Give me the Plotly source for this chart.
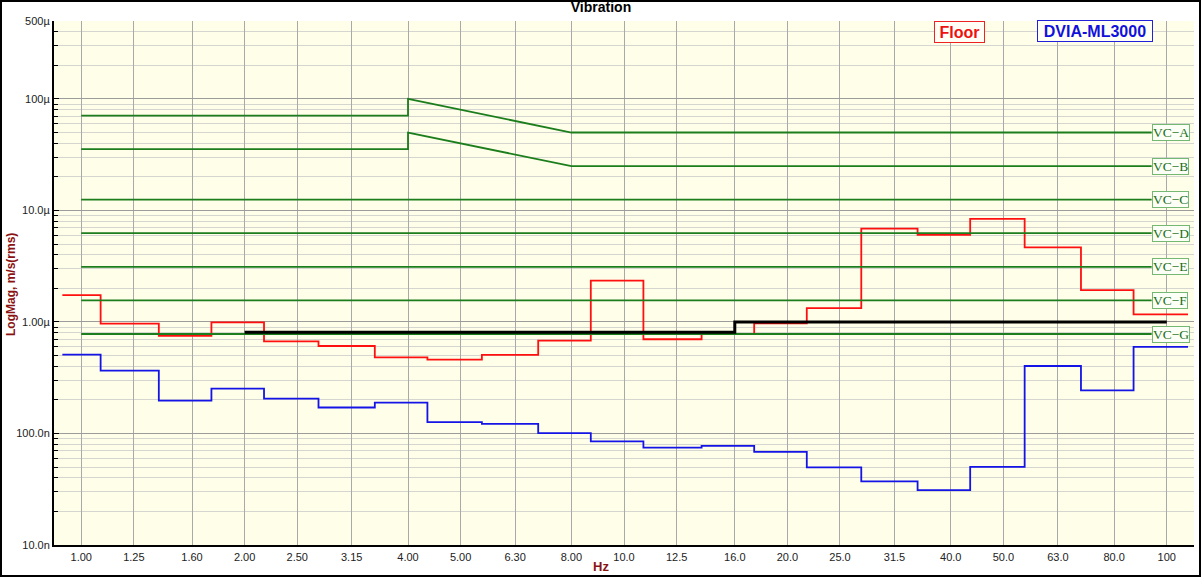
import math
import plotly.graph_objects as go

# ---------------- data ----------------
freqs = [1.00, 1.25, 1.60, 2.00, 2.50, 3.15, 4.00, 5.00, 6.30, 8.00, 10.0,
         12.5, 16.0, 20.0, 25.0, 31.5, 40.0, 50.0, 63.0, 80.0, 100.0]
freq_labels = ["1.00", "1.25", "1.60", "2.00", "2.50", "3.15", "4.00", "5.00",
               "6.30", "8.00", "10.0", "12.5", "16.0", "20.0", "25.0", "31.5",
               "40.0", "50.0", "63.0", "80.0", "100"]

# third-octave band levels, µm/s rms
floor_um = [1.74, 0.966, 0.75, 0.99, 0.671, 0.609, 0.482, 0.459, 0.506, 0.68,
            2.35, 0.70, 0.78, 0.97, 1.33, 6.86, 6.04, 8.4, 4.67, 1.93, 1.17]
dvia_um = [0.509, 0.366, 0.197, 0.252, 0.205, 0.171, 0.189, 0.1265, 0.122,
           0.1007, 0.085, 0.0746, 0.0774, 0.0683, 0.0496, 0.0372, 0.0311,
           0.0502, 0.403, 0.244, 0.597]

# black reference line
ref_hz = [2.0, 16.0, 100.0]
ref_um = [0.81, 1.0, 1.0]

# VC criterion curves
vc_names = ["VC\u2212A", "VC\u2212B", "VC\u2212C", "VC\u2212D", "VC\u2212E", "VC\u2212F", "VC\u2212G"]
vc_hz = [
    [1.0, 4.0, 4.0, 8.0, 93.8],
    [1.0, 4.0, 4.0, 8.0, 93.8],
    [1.0, 93.8],
    [1.0, 93.8],
    [1.0, 93.8],
    [1.0, 93.8],
    [1.0, 93.8],
]
vc_um = [
    [71.0, 71.0, 100.0, 50.0, 50.0],
    [35.5, 35.5, 50.0, 25.0, 25.0],
    [12.5, 12.5],
    [6.25, 6.25],
    [3.12, 3.12],
    [1.56, 1.56],
    [0.78, 0.78],
]

y_tickvals = [1e-8, 1e-7, 1e-6, 1e-5, 1e-4, 5e-4]
y_ticktext = ["10.0n", "100.0n", "1.00\u00b5", "10.0\u00b5", "100\u00b5", "500\u00b5"]

# ---------------- layout constants ----------------
W, H = 1202, 578
ML, MR, MT, MB = 54, 8, 21, 33
PW, PH = W - ML - MR, H - MT - MB
HALF = 2 ** (1 / 6)
SHIFT = 0.975          # drawn band edges sit slightly below nominal
START_HZ = 0.923

def px2paper_x(px):
    return (px - ML) / PW

def px2paper_y(py):
    return (H - MB - py) / PH

# band step outlines
band_x = [START_HZ] + [f / HALF * SHIFT for f in freqs[1:]] + [freqs[-1] * HALF * SHIFT]

def steps(vals):
    return [v * 1e-6 for v in vals] + [vals[-1] * 1e-6]

fig = go.Figure()

fig.add_trace(go.Scatter(x=band_x, y=steps(floor_um), mode="lines", line_shape="hv",
                         line=dict(color="#ff1010", width=1.8), name="Floor"))

green = "#1b7d1b"
for name, xs, ys in zip(vc_names, vc_hz, vc_um):
    fig.add_trace(go.Scatter(x=xs, y=[v * 1e-6 for v in ys], mode="lines",
                             line=dict(color=green, width=1.8), name=name))
    fig.add_annotation(x=math.log10(xs[-1]), y=math.log10(ys[-1] * 1e-6), xref="x", yref="y",
                       text=name, showarrow=False, xanchor="left", yanchor="middle",
                       font=dict(family="Liberation Serif", size=13.5, color="#1a6e1a"),
                       bgcolor="#fbfff6", bordercolor="#74b874", borderwidth=1, borderpad=0)

fig.add_trace(go.Scatter(x=band_x, y=steps(dvia_um), mode="lines", line_shape="hv",
                         line=dict(color="#1414e6", width=1.8), name="DVIA-ML3000"))

fig.add_trace(go.Scatter(x=ref_hz, y=[v * 1e-6 for v in ref_um], mode="lines", line_shape="hv",
                         line=dict(color="black", width=3), name="ref"))

minor_vals = [m * 10.0 ** e for e in range(-8, -3) for m in range(2, 10)
              if m * 10.0 ** e < 5e-4 * 0.999]

fig.update_layout(
    width=W, height=H,
    margin=dict(l=ML, r=MR, t=MT, b=MB),
    paper_bgcolor="white",
    plot_bgcolor="#fefee9",
    showlegend=False,
    font=dict(family="Liberation Sans", size=11, color="#222"),
    title=dict(text="<b>Vibration</b>", x=0.5, xanchor="center", y=1 - 7 / H, yanchor="middle",
               yref="container", font=dict(family="Liberation Sans", size=14, color="black")),
)

fig.update_xaxes(type="log", range=[math.log10(1 / HALF), math.log10(100 * HALF)],
                 tickmode="array", tickvals=freqs, ticktext=freq_labels,
                 showgrid=True, gridcolor="#a9a9a9", gridwidth=1,
                 showline=True, linecolor="black", linewidth=2, ticks="", ticklabelstandoff=1,
                 tickfont=dict(size=11, color="#222"), zeroline=False)
fig.update_yaxes(type="log", range=[-8, math.log10(5e-4)],
                 tickmode="array", tickvals=y_tickvals, ticktext=y_ticktext,
                 showgrid=True, gridcolor="#9c9c9c", gridwidth=1,
                 showline=True, linecolor="black", linewidth=2,
                 ticks="inside", ticklen=5, tickcolor="black", tickwidth=1,
                 tickfont=dict(size=11, color="#222"), zeroline=False,
                 minor=dict(tickvals=minor_vals, showgrid=True, gridcolor="#d6d6d0", gridwidth=1,
                            ticks="inside", ticklen=4, tickcolor="black", tickwidth=1))

# axis titles
fig.add_annotation(x=px2paper_x(601), y=px2paper_y(566), xref="paper", yref="paper",
                   text="<b>Hz</b>", showarrow=False, xanchor="center", yanchor="middle",
                   font=dict(family="Liberation Sans", size=13, color="#8b1212"))
fig.add_annotation(x=px2paper_x(11), y=px2paper_y(285), xref="paper", yref="paper",
                   text="<b>LogMag, m/s(rms)</b>", textangle=-90, showarrow=False,
                   xanchor="center", yanchor="middle",
                   font=dict(family="Liberation Sans", size=12, color="#8b1212"))

# legend boxes
fig.add_annotation(x=px2paper_x(959.5), y=px2paper_y(31.7), xref="paper", yref="paper",
                   text="<b>Floor</b>", showarrow=False, xanchor="center", yanchor="middle",
                   width=47, height=18, borderpad=1,
                   font=dict(family="Liberation Sans", size=16, color="#ee1111"),
                   bgcolor="#fffff6", bordercolor="#ee2222", borderwidth=1)
fig.add_annotation(x=px2paper_x(1095), y=px2paper_y(31.3), xref="paper", yref="paper",
                   text="<b>DVIA-ML3000</b>", showarrow=False, xanchor="center", yanchor="middle",
                   width=112, height=18, borderpad=1,
                   font=dict(family="Liberation Sans", size=16, color="#1111dd"),
                   bgcolor="#fffff6", bordercolor="#2222dd", borderwidth=1)

# outer frame
fig.add_shape(type="rect", xref="paper", yref="paper",
              x0=px2paper_x(1), x1=px2paper_x(1200), y0=px2paper_y(576), y1=px2paper_y(1),
              line=dict(color="black", width=2), fillcolor="rgba(0,0,0,0)", layer="above")

fig.write_html("out.html", config={"displayModeBar": False},
               post_script="document.body.style.margin='0';document.body.style.overflow='hidden';")
